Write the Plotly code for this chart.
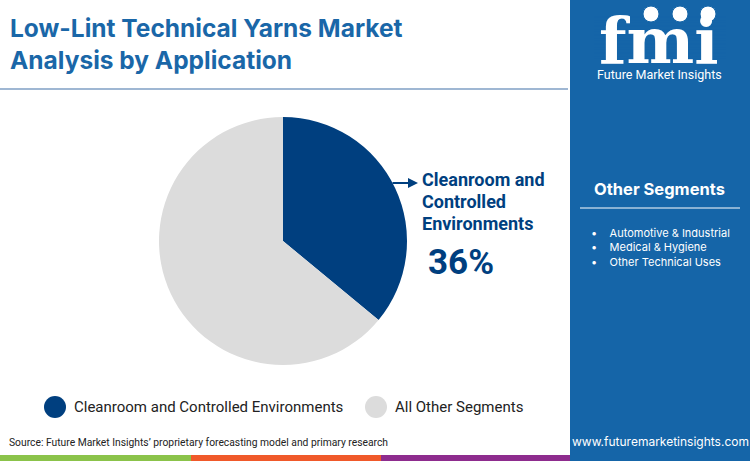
import plotly.graph_objects as go

W, H = 750, 461

categories = ["Cleanroom and Controlled Environments", "All Other Segments"]
shares = [36, 64]
colors = ["#003F7F", "#DCDCDC"]
other_segments = ["Automotive & Industrial", "Medical & Hygiene", "Other Technical Uses"]
label_lines = ["Cleanroom and", "Controlled", "Environments"]

title_text = "Low-Lint Technical Yarns Market<br>Analysis by Application"
source_text = "Source: Future Market Insights\u2019 proprietary forecasting model and primary research"

PANEL = "#1565A8"
TITLE_C = "#1A67A8"
NAVY = "#003F7F"


def X(px):
    return px / W


def Y(py):
    return 1 - py / H


cx, cy, r = 283, 241, 124

fig = go.Figure()
fig.add_trace(go.Pie(
    labels=categories, values=shares,
    marker=dict(colors=colors, line=dict(width=0)),
    sort=False, direction="clockwise", rotation=0,
    textinfo="none", hoverinfo="label+percent", showlegend=False,
    domain=dict(x=[X(cx - r), X(cx + r)], y=[Y(cy + r), Y(cy - r)]),
))

shapes = []
ann = []

# right panel
shapes.append(dict(type="rect", xref="paper", yref="paper", x0=X(570), x1=1, y0=0, y1=1,
                   fillcolor=PANEL, line=dict(width=0), layer="below"))
# bottom stripes
for x0, x1, c in [(0, 191, "#8BC34A"), (191, 381, "#F0592A"), (381, 570, "#8E2C8E")]:
    shapes.append(dict(type="rect", xref="paper", yref="paper", x0=X(x0), x1=X(x1),
                       y0=Y(461), y1=Y(455), fillcolor=c, line=dict(width=0)))
# title underline
shapes.append(dict(type="line", xref="paper", yref="paper", x0=0, x1=X(568), y0=Y(89), y1=Y(89),
                   line=dict(color="#7F9FC4", width=1.5)))
# panel divider
shapes.append(dict(type="line", xref="paper", yref="paper", x0=X(580), x1=X(740), y0=Y(208), y1=Y(208),
                   line=dict(color="white", width=1)))

# title
ann.append(dict(text="<b>" + title_text + "</b>", x=X(8), y=Y(11), xref="paper", yref="paper",
                xanchor="left", yanchor="top", align="left", showarrow=False,
                font=dict(family="Inter, Open Sans", size=24.5, color=TITLE_C)))

# logo
ann.append(dict(text="<b>fmi</b>", x=X(659), y=Y(79), xref="paper", yref="paper",
                xanchor="center", yanchor="bottom", showarrow=False, borderpad=0,
                font=dict(family="DejaVu Serif", size=64, color="white")))
for py in [17 + 4.5 * k for k in range(10)]:
    shapes.append(dict(type="line", xref="paper", yref="paper", x0=X(594), x1=X(726), y0=Y(py), y1=Y(py),
                       line=dict(color=PANEL, width=1.3)))
for gx in [651, 680, 708]:
    shapes.append(dict(type="circle", xref="paper", yref="paper", x0=X(gx - 8), x1=X(gx + 8),
                       y0=Y(22), y1=Y(6), fillcolor="white", line=dict(color=PANEL, width=1)))
ann.append(dict(text="Future Market Insights", x=X(659), y=Y(74), xref="paper", yref="paper",
                xanchor="center", yanchor="middle", showarrow=False,
                font=dict(family="Roboto", size=12.5, color="white")))

# panel content
ann.append(dict(text="<b>Other Segments</b>", x=X(659), y=Y(189), xref="paper", yref="paper",
                xanchor="center", yanchor="middle", showarrow=False,
                font=dict(family="Inter", size=16.5, color="white")))
seg_text = "<br>".join("\u2022&nbsp;&nbsp;&nbsp;&nbsp;" + s for s in other_segments)
ann.append(dict(text=seg_text, x=X(589), y=Y(247.5), xref="paper", yref="paper",
                xanchor="left", yanchor="middle", align="left", showarrow=False,
                font=dict(family="Inter", size=11, color="white")))
ann.append(dict(text="www.futuremarketinsights.com", x=X(660), y=Y(441), xref="paper", yref="paper",
                xanchor="center", yanchor="middle", showarrow=False,
                font=dict(family="Inter", size=12, color="white")))

# slice label
ann.append(dict(text="", x=X(418), y=Y(183), xref="paper", yref="paper", showarrow=True,
                ax=-27, ay=0, arrowhead=2, arrowsize=1, arrowwidth=2, arrowcolor=NAVY))
for i, line in enumerate(label_lines):
    ann.append(dict(text="<b>" + line + "</b>", x=X(420), y=Y(180 + 21.5 * i),
                    xref="paper", yref="paper", xanchor="left", yanchor="middle",
                    showarrow=False, font=dict(family="Roboto", size=18, color=NAVY)))
ann.append(dict(text="<b>%d%%</b>" % shares[0], x=X(426), y=Y(262), xref="paper", yref="paper",
                xanchor="left", yanchor="middle", showarrow=False,
                font=dict(family="Roboto", size=35, color=NAVY)))

# legend
lx = [55, 376]
for i, (c, lab) in enumerate(zip(colors, categories)):
    shapes.append(dict(type="circle", xref="paper", yref="paper", x0=X(lx[i] - 11), x1=X(lx[i] + 11),
                       y0=Y(418), y1=Y(396), fillcolor=c, line=dict(width=0)))
    ann.append(dict(text=lab, x=X(lx[i] + 17), y=Y(407), xref="paper", yref="paper",
                    xanchor="left", yanchor="middle", showarrow=False,
                    font=dict(family="Roboto", size=15, color="#222222")))

# source
ann.append(dict(text=source_text, x=X(7), y=Y(442), xref="paper", yref="paper",
                xanchor="left", yanchor="middle", showarrow=False,
                font=dict(family="Roboto", size=10.3, color="#222222")))

fig.update_layout(width=W, height=H, margin=dict(l=0, r=0, t=0, b=0),
                  paper_bgcolor="white", plot_bgcolor="white",
                  shapes=shapes, annotations=ann)
fig.write_html("out.html", config={"displayModeBar": False},
               post_script="document.body.style.margin='0';document.body.style.padding='0';"
                           "document.body.style.overflow='hidden';")
